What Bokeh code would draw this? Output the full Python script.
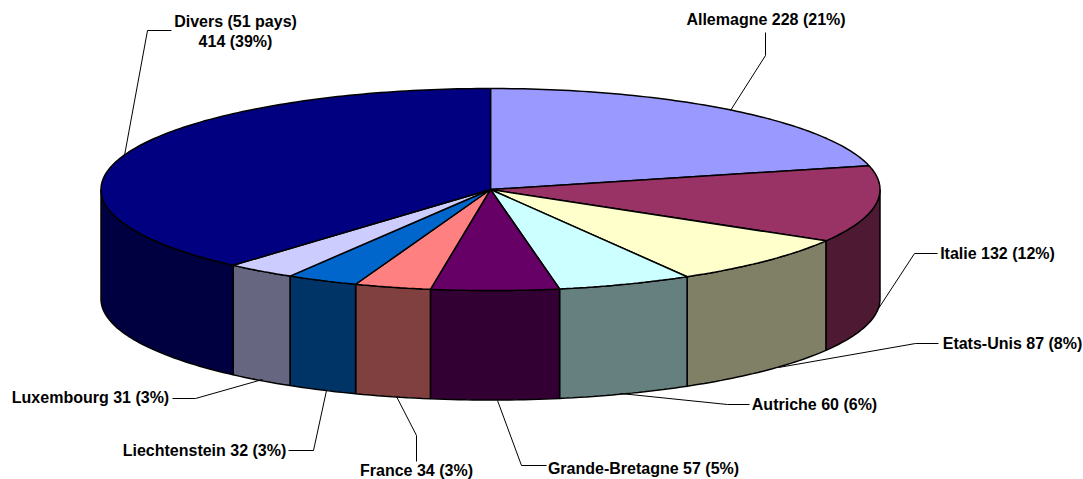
import numpy as np
from bokeh.plotting import figure
from bokeh.models import Range1d
from bokeh.core.properties import value
from bokeh.embed import file_html
from bokeh.resources import INLINE

countries = ["Allemagne", "Italie", "Etats-Unis", "Autriche", "Grande-Bretagne",
             "France", "Liechtenstein", "Luxembourg", "Divers"]
values = [228, 132, 87, 60, 57, 34, 32, 31, 414]
labels = ["Allemagne 228 (21%)", "Italie 132 (12%)", "Etats-Unis 87 (8%)", "Autriche 60 (6%)",
          "Grande-Bretagne 57 (5%)", "France 34 (3%)", "Liechtenstein 32 (3%)",
          "Luxembourg 31 (3%)", "Divers (51 pays)\n414 (39%)"]
top_colors = ["#9999FF", "#993366", "#FFFFCC", "#CCFFFF", "#660066",
              "#FF8080", "#0066CC", "#CCCCFF", "#000080"]
side_colors = ["#4D4D80", "#4D1933", "#808066", "#668080", "#330033",
               "#804040", "#003366", "#666680", "#000040"]

# layout (pixels of the page picture)
CX, CY, RX, RY, DEPTH = 490.0, 189.0, 389.5, 101.0, 109.5
label_pos = [(765.5, 19), (997, 253), (1012, 343), (814, 404), (643, 468),
             (416, 470), (204, 450), (90, 397), (235, 21)]
label_lines = [
    [(765, 32), (765, 55), (730, 110)],
    [(937, 253), (914, 253), (878, 308)],
    [(938, 343), (915, 343), (778, 367)],
    [(749, 404), (727, 404), (620, 393)],
    [(546, 465), (521, 465), (497, 400)],
    [(416, 461), (416, 435), (396, 396)],
    [(288, 450), (313, 450), (326, 390)],
    [(172, 398), (195, 398), (262, 379)],
    [(171, 30), (147, 30), (124, 155)],
]

p = figure(width=1083, height=479, output_backend="svg", toolbar_location=None,
           x_range=Range1d(0, 1083), y_range=Range1d(479, 0),
           min_border=0)
p.axis.visible = False
p.grid.visible = False
p.outline_line_color = None


def arc(a, b, dy=0.0):
    t = np.linspace(a, b, max(int(abs(b - a) * 60), 2))
    return CX + RX * np.sin(t), CY + dy - RY * np.cos(t)


total = sum(values)
edges = np.concatenate([[0], np.cumsum(values)]) / total * 2 * np.pi

# sides, drawn back to front from the two outer edges of the visible half
order = [1, 2, 3, 4, 5, 6, 7, 8]
for i in order:
    a = max(edges[i], np.pi / 2)
    b = min(edges[i + 1], 3 * np.pi / 2)
    if b <= a:
        continue
    x1, y1 = arc(a, b)
    x2, y2 = arc(b, a, DEPTH)
    p.patch(np.r_[x1, x2], np.r_[y1, y2], fill_color=side_colors[i],
            line_color="black", line_width=1.5)

# top face
for i in range(len(values)):
    x, y = arc(edges[i], edges[i + 1])
    p.patch(np.r_[CX, x], np.r_[CY, y], fill_color=top_colors[i],
            line_color="black", line_width=1.5)

# leader lines
for pts in label_lines:
    p.line([q[0] for q in pts], [q[1] for q in pts], line_color="black", line_width=1)

# labels
for lab, (x, y) in zip(labels, label_pos):
    rows = lab.split("\n")
    for k, row in enumerate(rows):
        p.text([x], [y + k * 20], text=[row], text_align="center", text_baseline="middle",
               text_font=value("Liberation Sans"), text_font_style="bold",
               text_font_size="16px", text_color="black")

open("out.html", "w").write(file_html(p, INLINE))
